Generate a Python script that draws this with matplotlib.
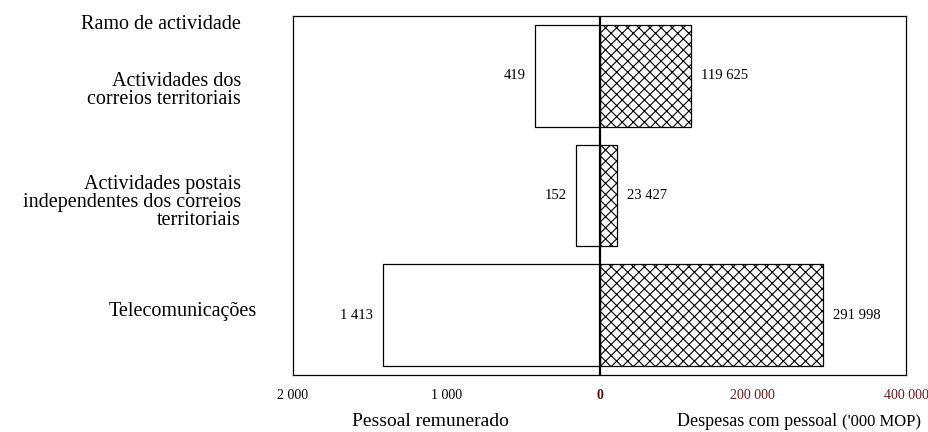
import matplotlib
matplotlib.use("Agg")
import matplotlib.pyplot as plt
from matplotlib.transforms import blended_transform_factory

plt.rcParams["font.family"] = ["Liberation Serif", "DejaVu Serif"]
plt.rcParams["hatch.linewidth"] = 0.8
plt.rcParams["hatch.color"] = "#222222"

# data
categories = ["Actividades dos\ncorreios territoriais",
              "Actividades postais\nindependentes dos correios\nterritoriais",
              "Telecomunicações"]
staff = [419, 152, 1413]                 # Pessoal remunerado
expenses = [119625, 23427, 291998]       # Despesas com pessoal ('000 MOP)
left_ticks = [2000, 1000, 0]
right_ticks = [0, 200000, 400000]

LEFT_MAX = 2000
RIGHT_MAX = 400000


def fmt(v):
    return f"{v:,}".replace(",", " ")


fig = plt.figure(figsize=(9.29, 4.32), dpi=100)
ax = fig.add_axes([293 / 929, 57 / 432, 613 / 929, 359 / 432])

ypos = list(range(len(categories)))
h = 0.85

# left side: staff, scaled to [-1, 0]
ax.barh(ypos, [-s / LEFT_MAX for s in staff], height=h, color="white",
        edgecolor="black", linewidth=0.9)
# right side: expenses, scaled to [0, 1]
ax.barh(ypos, [e / RIGHT_MAX for e in expenses], height=h, color="white",
        edgecolor="black", linewidth=0.9, hatch="xxx")

ax.axvline(0, color="black", linewidth=1.6)

for y, s, e in zip(ypos, staff, expenses):
    ax.annotate(fmt(s), (-s / LEFT_MAX, y), xytext=(-7, 0), textcoords="offset points",
                ha="right", va="center", fontsize=10.5)
    ax.annotate(fmt(e), (e / RIGHT_MAX, y), xytext=(7, 0), textcoords="offset points",
                ha="left", va="center", fontsize=10.5)

ax.set_xlim(-1.0, 1.0)
ax.set_ylim(2.5, -0.5)
ax.set_yticks([])

ticks = [-t / LEFT_MAX for t in left_ticks[:-1]] + [t / RIGHT_MAX for t in right_ticks]
labels = [fmt(t) for t in left_ticks[:-1]] + [fmt(t) for t in right_ticks]
ax.set_xticks(ticks)
ax.set_xticklabels(labels, fontsize=10)
ax.tick_params(axis="x", length=0, pad=10)
for lab, t in zip(ax.get_xticklabels(), ticks):
    if t == 0:
        lab.set_color("#5a0f0f")
        lab.set_fontweight("bold")
    elif t > 0:
        lab.set_color("#6b1a1a")

for sp in ax.spines.values():
    sp.set_linewidth(0.9)

# category labels on the left
tr = blended_transform_factory(fig.transFigure, ax.transData)
label_x = [241, 241, 257]
label_dy = [0.12, 0.06, -0.03]
for name, y, lx, dy in zip(categories, ypos, label_x, label_dy):
    fig.text(lx / 929, y + dy, name, transform=tr, ha="right", va="center",
             multialignment="right", fontsize=14.5, linespacing=0.92)
fig.text(241 / 929, -0.43, "Ramo de actividade", transform=tr, ha="right",
         va="center", fontsize=14.5)

fig.text(430 / 929, 1 - 422 / 432, "Pessoal remunerado", ha="center", va="center",
         fontsize=14)
t1 = fig.text(677 / 929, 1 - 422 / 432, "Despesas com pessoal ", ha="left",
              va="center", fontsize=13)
ax.annotate("('000 MOP)", xy=(1, 0.5), xycoords=t1, ha="left", va="center",
            fontsize=12)

fig.savefig("out.png", dpi=100)
